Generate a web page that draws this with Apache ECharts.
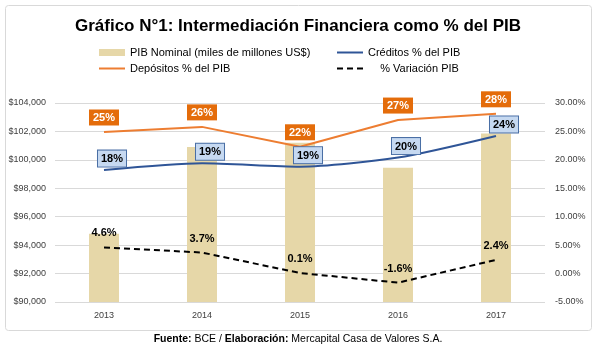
<!DOCTYPE html>
<html>
<head>
<meta charset="utf-8">
<script src="https://cdn.jsdelivr.net/npm/echarts@6/dist/echarts.min.js"></script>
<style>
html,body{margin:0;padding:0;background:#fff;}
#c{width:596px;height:345px;}
</style>
</head>
<body>
<div id="c"></div>
<script>
const years = ['2013', '2014', '2015', '2016', '2017'];
const pibNominal = [94800, 100900, 101200, 99450, 101850];
const creditos = [18.2, 19.4, 18.8, 20.4, 24.2];
const depositos = [24.9, 25.8, 22.3, 27.0, 28.1];
const variacion = [4.6, 3.7, 0.1, -1.6, 2.4];

const FONT = '"Liberation Sans", Arial, sans-serif';
const chart = echarts.init(document.getElementById('c'));
const hiddenSymbol = { symbol: 'circle', symbolSize: 1, showSymbol: true, itemStyle: { color: 'rgba(0,0,0,0)' } };
chart.setOption({
  animation: false,
  textStyle: { fontFamily: FONT },
  graphic: [{
    type: 'rect', left: 3, top: 3,
    shape: { width: 586, height: 325, r: 3 },
    style: { fill: 'none', stroke: '#D9D9D9', lineWidth: 1 }
  }],
  title: [{
    text: 'Gráfico N°1: Intermediación Financiera como % del PIB',
    left: 'center', top: 13,
    textStyle: { fontFamily: FONT, fontSize: 17, fontWeight: 'bold', color: '#000' }
  }, {
    text: '{b|Fuente:} BCE / {b|Elaboración:} Mercapital Casa de Valores S.A.',
    left: 'center', top: 329,
    textStyle: {
      fontFamily: FONT, fontSize: 10.5, fontWeight: 'normal', color: '#000',
      rich: { b: { fontFamily: FONT, fontSize: 10.5, fontWeight: 'bold', color: '#000' } }
    }
  }],
  legend: [{
    orient: 'vertical', left: 98, top: 47, padding: 0,
    itemWidth: 26, itemHeight: 7, itemGap: 5,
    textStyle: { fontSize: 11, color: '#000' },
    data: [{ name: 'PIB Nominal (miles de millones US$)', icon: 'rect' }, 'Depósitos % del PIB']
  }, {
    orient: 'vertical', left: 336, top: 47, padding: 0,
    itemWidth: 26, itemHeight: 7, itemGap: 5,
    textStyle: { fontSize: 11, color: '#000' },
    formatter: n => n === '% Variación PIB' ? '    ' + n : n,
    data: ['Créditos % del PIB', '% Variación PIB']
  }],
  grid: { left: 55, right: 51, top: 103, bottom: 43 },
  xAxis: {
    type: 'category', data: years,
    axisLine: { show: false }, axisTick: { show: false },
    axisLabel: { fontSize: 9, color: '#404040', margin: 9 }
  },
  yAxis: [{
    type: 'value', min: 90000, max: 104000, interval: 2000,
    axisLine: { show: false }, axisTick: { show: false },
    splitLine: { lineStyle: { color: '#D9D9D9', width: 1 } },
    axisLabel: {
      fontSize: 9, color: '#404040', margin: 9,
      formatter: v => '$' + v.toLocaleString('en-US')
    }
  }, {
    type: 'value', min: -5, max: 30, interval: 5,
    axisLine: { show: false }, axisTick: { show: false },
    splitLine: { show: false },
    axisLabel: {
      fontSize: 9, color: '#404040', margin: 10, align: 'left',
      formatter: v => v.toFixed(2) + '%'
    }
  }],
  series: [{
    name: 'PIB Nominal (miles de millones US$)', type: 'bar',
    data: pibNominal, barWidth: 30, yAxisIndex: 0,
    itemStyle: { color: '#E6D7A8' }
  }, Object.assign({
    name: 'Créditos % del PIB', type: 'line', yAxisIndex: 1,
    data: creditos, smooth: 0.25, z: 3,
    lineStyle: { color: '#2F5597', width: 2 },
    label: {
      show: true, position: 'top', distance: 3, offset: [8, 0],
      formatter: p => Math.round(p.value) + '%',
      fontSize: 11, fontWeight: 'bold', color: '#000',
      backgroundColor: '#C6D9F1', borderColor: '#4A6FA5', borderWidth: 1,
      padding: [3, 3, 2, 3]
    }
  }, hiddenSymbol), Object.assign({
    name: 'Depósitos % del PIB', type: 'line', yAxisIndex: 1,
    data: depositos, z: 3,
    lineStyle: { color: '#ED7D31', width: 2 },
    label: {
      show: true, position: 'top', distance: 6,
      formatter: p => Math.round(p.value) + '%',
      fontSize: 11, fontWeight: 'bold', color: '#fff',
      backgroundColor: '#E46C0A', padding: [3, 4, 2, 4]
    }
  }, hiddenSymbol), Object.assign({
    name: '% Variación PIB', type: 'line', yAxisIndex: 1,
    data: variacion, z: 3,
    lineStyle: { color: '#000', width: 2, type: [6, 4] },
    label: {
      show: true, position: 'top', distance: 8,
      formatter: p => p.value.toFixed(1) + '%',
      fontSize: 11, fontWeight: 'bold', color: '#000'
    }
  }, hiddenSymbol)]
});
</script>
</body>
</html>
